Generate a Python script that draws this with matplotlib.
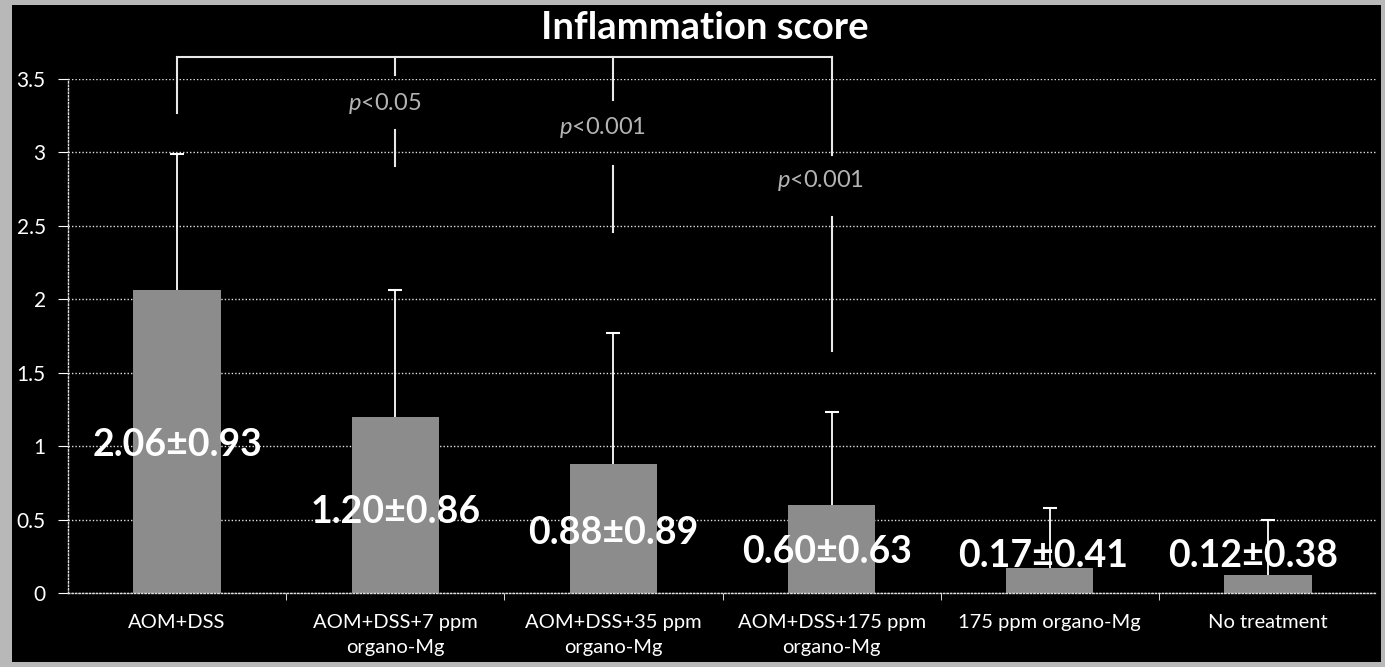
import matplotlib.pyplot as plt
import numpy as np
from matplotlib.patches import Rectangle

plt.rcParams['font.family'] = ['Lato', 'DejaVu Sans']
plt.rcParams['mathtext.fontset'] = 'custom'
plt.rcParams['mathtext.it'] = 'Lato:italic'
plt.rcParams['mathtext.rm'] = 'Lato'

categories = ['AOM+DSS', 'AOM+DSS+7 ppm\norgano-Mg', 'AOM+DSS+35 ppm\norgano-Mg',
              'AOM+DSS+175 ppm\norgano-Mg', '175 ppm organo-Mg', 'No treatment']
means = [2.06, 1.20, 0.88, 0.60, 0.17, 0.12]
sds = [0.93, 0.86, 0.89, 0.63, 0.41, 0.38]
value_labels = ['2.06±0.93', '1.20±0.86', '0.88±0.89', '0.60±0.63', '0.17±0.41', '0.12±0.38']
value_label_y = [1.01, 0.55, 0.41, 0.28, 0.25, 0.25]
value_label_dx = [0, 0, 0, -0.02, -0.03, -0.07]
yticks = [0, 0.5, 1, 1.5, 2, 2.5, 3, 3.5]
ytick_labels = ['0', '0.5', '1', '1.5', '2', '2.5', '3', '3.5']

# significance brackets: group compared with group 0
bracket_top = 3.65
bracket_ref_bottom = 3.27
comparisons = [1, 2, 3]
p_texts = ['$p$<0.05', '$p$<0.001', '$p$<0.001']
drop_end = [3.53, 3.36, 2.98]      # first line segment, from the top bracket down
p_text_y = [3.33, 3.17, 2.81]
lower_seg = [(3.15, 2.91), (2.91, 2.46), (2.56, 1.65)]

fig = plt.figure(figsize=(13.85, 6.67), dpi=100, facecolor='#b8b8b8')
fig.patches.append(Rectangle((12 / 1385, 5 / 667), (1381 - 12) / 1385, (662 - 5) / 667,
                             transform=fig.transFigure, facecolor='black', edgecolor='none', zorder=-1))

ax = fig.add_axes([68 / 1385, 74 / 667, (1377 - 68) / 1385, (593 - 79) / 667])
ax.set_facecolor('black')

x = np.arange(len(categories))
ax.bar(x, means, width=0.40, color='#8c8c8c', zorder=2)
eb = ax.errorbar(x, means, yerr=[np.zeros(len(sds)), sds], fmt='none', ecolor='white',
                 elinewidth=1.3, capsize=5, capthick=1.5, zorder=3)
eb[1][0].set_visible(False)   # no cap at the bar top

for i in range(len(categories)):
    ax.text(x[i] + value_label_dx[i], value_label_y[i], value_labels[i], ha='center', va='center',
            color='white', fontsize=27, fontweight='bold', zorder=4)

ax.set_xlim(-0.5, len(categories) - 0.5)
ax.set_ylim(0, 3.5)
ax.set_yticks(yticks)
ax.set_yticklabels(ytick_labels)
ax.set_xticks(x)
ax.set_xticklabels(categories, fontsize=14.5, color='white', linespacing=1.6)
ax.set_xticks(np.arange(0.5, len(categories) - 1, 1), minor=True)
ax.tick_params(axis='x', which='major', length=0, pad=15)
ax.tick_params(axis='x', which='minor', length=5, color='white', direction='out')
ax.tick_params(axis='y', length=7, color='white', labelcolor='white', labelsize=15, pad=9)

ax.yaxis.grid(True, color='#e0e0e0', linestyle=(0, (1, 1.5)), linewidth=1)
ax.set_axisbelow(True)
for s in ['top', 'right']:
    ax.spines[s].set_visible(False)
for s in ['left', 'bottom']:
    ax.spines[s].set_color('#e0e0e0')
    ax.spines[s].set_linestyle((0, (1, 1.5)))
    ax.spines[s].set_linewidth(1)

# brackets
line_kw = dict(color='#e8e8e8', linewidth=1.5, clip_on=False, zorder=5)
ax.plot([0, comparisons[-1]], [bracket_top, bracket_top], **line_kw)
ax.plot([0, 0], [bracket_top, bracket_ref_bottom], **line_kw)
for i, c in enumerate(comparisons):
    ax.plot([c, c], [bracket_top, drop_end[i]], **line_kw)
    ax.text(c - 0.05, p_text_y[i], p_texts[i], ha='center', va='center',
            color='#b4b4b4', fontsize=17, zorder=5)
    ax.plot([c, c], list(lower_seg[i]), **line_kw)

fig.text(0.509, 0.958, 'Inflammation score', ha='center', va='center',
         color='white', fontsize=27.5, fontweight='bold')

fig.savefig('out.png', dpi=100, facecolor=fig.get_facecolor())
